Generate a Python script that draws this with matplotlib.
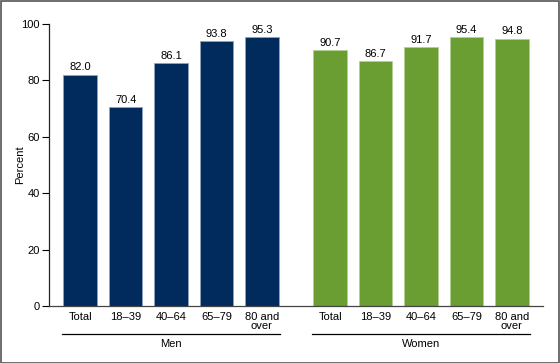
import matplotlib
matplotlib.use("Agg")
import matplotlib.pyplot as plt
from matplotlib.patches import Rectangle

plt.rcParams['font.family'] = ['Liberation Sans', 'DejaVu Sans']

categories = ["Total", "18\u201339", "40\u201364", "65\u201379", "80 and\nover"]
men = [82.0, 70.4, 86.1, 93.8, 95.3]
women = [90.7, 86.7, 91.7, 95.4, 94.8]
groups = ["Men", "Women"]
yticks = [0, 20, 40, 60, 80, 100]

men_color = "#002b5c"
women_color = "#6a9d32"

fig = plt.figure(figsize=(5.6, 3.63), dpi=100)
ax = fig.add_axes([0.088, 0.157, 0.882, 0.777])

n = len(categories)
xm = list(range(n))
xw = [i + n + 0.5 for i in range(n)]
w = 0.74

ax.bar(xm, men, width=w, color=men_color, edgecolor="#8fa3bd", linewidth=0.6)
ax.bar(xw, women, width=w, color=women_color, edgecolor="#b5cf95", linewidth=0.6)

fs = 8
for x, v in zip(xm + xw, men + women):
    ax.text(x, v + 0.8, f"{v:.1f}", ha="center", va="bottom", fontsize=fs, color="black")

ax.set_xlim(-0.68, 10.19)
ax.set_ylim(0, 100)
ax.set_yticks(yticks)
ax.set_yticklabels([str(t) for t in yticks], fontsize=fs)
ax.set_xticks(xm + xw)
ax.set_xticklabels(categories * 2, fontsize=fs, linespacing=0.95)
ax.tick_params(axis="x", length=0, pad=4)
ax.tick_params(axis="y", length=5, width=0.8, pad=2, colors="black")
for s in ["top", "right"]:
    ax.spines[s].set_visible(False)
ax.spines["left"].set_linewidth(0.9)
ax.spines["bottom"].set_linewidth(0.9)
ax.spines["left"].set_color("#222222")
ax.spines["bottom"].set_color("#444444")
ax.set_ylabel("Percent", fontsize=fs)
ax.yaxis.set_label_coords(-0.048, 0.5)

# group lines and labels
trans = ax.get_xaxis_transform()
line_y = -0.0975
for xs, g in [(xm, groups[0]), (xw, groups[1])]:
    ax.plot([xs[0] - 0.4, xs[-1] + 0.4], [line_y, line_y], transform=trans,
            color="black", linewidth=0.9, clip_on=False)
    ax.text((xs[0] + xs[-1]) / 2, line_y - 0.02, g, transform=trans,
            ha="center", va="top", fontsize=fs)

# figure border
fig.patches.append(Rectangle((0.001, 0.001), 0.997, 0.996, transform=fig.transFigure,
                             fill=False, edgecolor="#555555", linewidth=1.2))

fig.savefig("out.png", dpi=100)
